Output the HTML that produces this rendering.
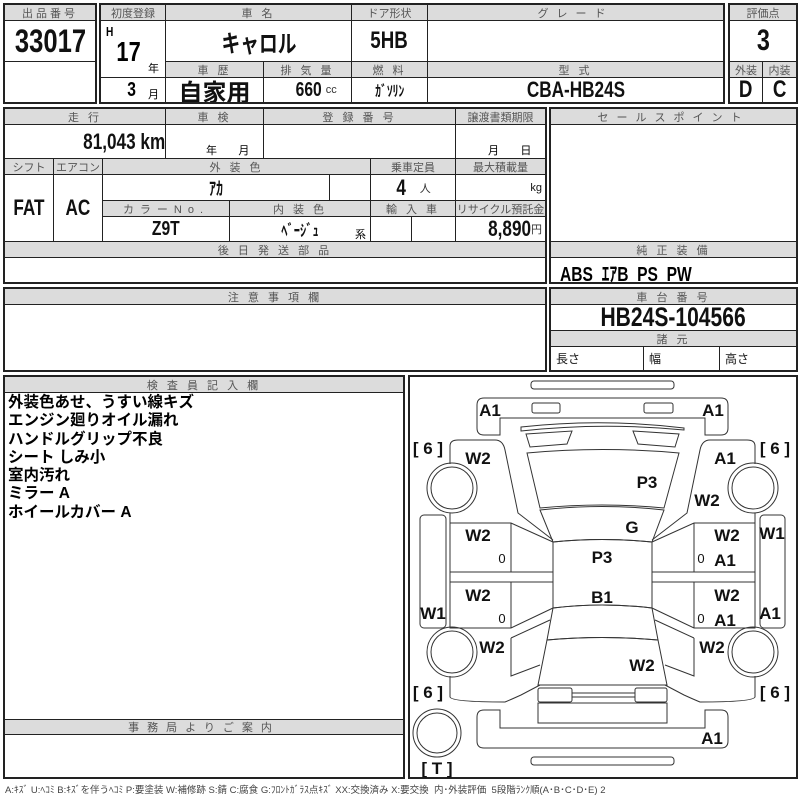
<!DOCTYPE html>
<html><head><meta charset="utf-8"><style>
body{margin:0;width:800px;height:800px;background:#fff;position:relative;overflow:hidden;font-family:"Liberation Sans","Noto Sans CJK JP",sans-serif;}
.b{position:absolute;border:1px solid #222;box-sizing:border-box;display:flex;align-items:center;justify-content:center;overflow:hidden;white-space:nowrap;color:#111}
.h{background:#dcdcdc;color:#555;font-size:11px;letter-spacing:3px}
.v{font-weight:bold;font-size:20px}
.n{display:inline-block;transform:scaleX(.78);}
.s{font-size:11px;color:#333;font-weight:normal}
.fr{position:absolute;border:2px solid #222;box-sizing:border-box}
.t{position:absolute;font-weight:bold;font-size:16px;white-space:nowrap}
</style></head><body>
<!-- block1 -->
<div class="fr" style="left:3px;top:3px;width:94px;height:101px"></div>
<div class="b h" style="left:4px;top:4px;width:92px;height:17px">出品番号</div>
<div class="b v" style="left:4px;top:20px;width:92px;height:42px;font-size:32px"><span class="n" style="transform:scaleX(.8)">33017</span></div>
<div class="b" style="left:4px;top:61px;width:92px;height:42px"></div>
<!-- block2 -->
<div class="fr" style="left:99px;top:3px;width:626px;height:101px"></div>
<div class="b h" style="left:100px;top:4px;width:66px;height:17px;letter-spacing:0">初度登録</div>
<div class="b h" style="left:165px;top:4px;width:187px;height:17px">車 名</div>
<div class="b h" style="left:351px;top:4px;width:77px;height:17px;letter-spacing:0">ドア形状</div>
<div class="b h" style="left:427px;top:4px;width:297px;height:17px;letter-spacing:8px">グレード</div>
<div class="b" style="left:100px;top:20px;width:66px;height:58px"></div>
<div class="t" style="left:105px;top:24px;font-size:13px"><span class="n">H</span></div>
<div class="t" style="left:113px;top:36px;font-size:28px"><span class="n">17</span></div>
<div class="t" style="left:148px;top:60px;font-size:11px;font-weight:normal">年</div>
<div class="b" style="left:100px;top:77px;width:66px;height:26px"></div>
<div class="t" style="left:126px;top:79px;font-size:20px"><span class="n">3</span></div>
<div class="t" style="left:148px;top:86px;font-size:11px;font-weight:normal">月</div>
<div class="b v" style="left:165px;top:20px;width:187px;height:42px;font-size:24px"><span class="n">キャロル</span></div>
<div class="b v" style="left:351px;top:20px;width:77px;height:42px;font-size:24px"><span class="n">5HB</span></div>
<div class="b" style="left:427px;top:20px;width:297px;height:42px"></div>
<div class="b h" style="left:165px;top:61px;width:99px;height:17px">車 歴</div>
<div class="b h" style="left:263px;top:61px;width:89px;height:17px">排 気 量</div>
<div class="b h" style="left:351px;top:61px;width:77px;height:17px">燃 料</div>
<div class="b h" style="left:427px;top:61px;width:297px;height:17px">型 式</div>
<div class="b v" style="left:165px;top:77px;width:99px;height:26px;font-size:24px">自家用</div>
<div class="b v" style="left:263px;top:77px;width:89px;height:26px;padding-left:14px"><span class="n">660</span><span class="s">cc</span></div>
<div class="b v" style="left:351px;top:77px;width:77px;height:26px;font-size:15px"><span class="n">ｶﾞｿﾘﾝ</span></div>
<div class="b v" style="left:427px;top:77px;width:297px;height:26px;font-size:22px"><span class="n">CBA-HB24S</span></div>
<!-- rating -->
<div class="fr" style="left:728px;top:3px;width:70px;height:101px"></div>
<div class="b h" style="left:729px;top:4px;width:68px;height:17px;letter-spacing:0">評価点</div>
<div class="b v" style="left:729px;top:20px;width:68px;height:42px;font-size:30px"><span class="n">3</span></div>
<div class="b h" style="left:729px;top:61px;width:34px;height:17px;letter-spacing:0">外装</div>
<div class="b h" style="left:762px;top:61px;width:35px;height:17px;letter-spacing:0">内装</div>
<div class="b v" style="left:729px;top:77px;width:34px;height:26px;font-size:24px"><span class="n">D</span></div>
<div class="b v" style="left:762px;top:77px;width:35px;height:26px;font-size:24px"><span class="n">C</span></div>
<!-- block3 -->
<div class="fr" style="left:3px;top:107px;width:544px;height:177px"></div>
<div class="b h" style="left:4px;top:108px;width:162px;height:17px">走 行</div>
<div class="b h" style="left:165px;top:108px;width:99px;height:17px">車 検</div>
<div class="b h" style="left:263px;top:108px;width:193px;height:17px">登 録 番 号</div>
<div class="b h" style="left:455px;top:108px;width:91px;height:17px;letter-spacing:0">譲渡書類期限</div>
<div class="b v" style="left:4px;top:124px;width:162px;height:35px;justify-content:flex-end;padding-right:0;font-size:22px"><span class="n" style="transform-origin:right">81,043 km</span></div>
<div class="b" style="left:165px;top:124px;width:99px;height:35px"></div>
<div class="t" style="left:206px;top:142px;font-size:11px;font-weight:normal">年&nbsp;&nbsp;&nbsp;&nbsp;&nbsp;&nbsp;&nbsp;月</div>
<div class="b" style="left:263px;top:124px;width:193px;height:35px"></div>
<div class="b" style="left:455px;top:124px;width:91px;height:35px"></div>
<div class="t" style="left:488px;top:142px;font-size:11px;font-weight:normal">月&nbsp;&nbsp;&nbsp;&nbsp;&nbsp;&nbsp;&nbsp;日</div>
<div class="b h" style="left:4px;top:158px;width:50px;height:17px;letter-spacing:0">シフト</div>
<div class="b h" style="left:53px;top:158px;width:50px;height:17px;letter-spacing:0">エアコン</div>
<div class="b h" style="left:102px;top:158px;width:269px;height:17px">外 装 色</div>
<div class="b h" style="left:370px;top:158px;width:86px;height:17px;letter-spacing:0">乗車定員</div>
<div class="b h" style="left:455px;top:158px;width:91px;height:17px;letter-spacing:0">最大積載量</div>
<div class="b v" style="left:4px;top:174px;width:50px;height:68px;font-size:22px"><span class="n">FAT</span></div>
<div class="b v" style="left:53px;top:174px;width:50px;height:68px;font-size:22px"><span class="n">AC</span></div>
<div class="b v" style="left:102px;top:174px;width:228px;height:27px;font-size:18px"><span class="n">ｱｶ</span></div>
<div class="b" style="left:329px;top:174px;width:42px;height:27px"></div>
<div class="b v" style="left:370px;top:174px;width:86px;height:27px;font-size:22px"><span class="n">4</span>&nbsp;&nbsp;<span class="s">人</span></div>
<div class="b" style="left:455px;top:174px;width:91px;height:27px;justify-content:flex-end;padding-right:3px;font-size:11px">kg</div>
<div class="b h" style="left:102px;top:200px;width:128px;height:17px;letter-spacing:6px">カラーNo.</div>
<div class="b h" style="left:229px;top:200px;width:142px;height:17px">内 装 色</div>
<div class="b h" style="left:370px;top:200px;width:86px;height:17px">輸 入 車</div>
<div class="b h" style="left:455px;top:200px;width:91px;height:17px;letter-spacing:0">リサイクル預託金</div>
<div class="b v" style="left:102px;top:216px;width:128px;height:26px;font-size:20px"><span class="n">Z9T</span></div>
<div class="b v" style="left:229px;top:216px;width:142px;height:26px;font-size:16px"><span class="n">ﾍﾞｰｼﾞｭ</span></div>
<div class="t" style="left:355px;top:226px;font-size:11px;font-weight:normal">系</div>
<div class="b" style="left:370px;top:216px;width:42px;height:26px"></div>
<div class="b" style="left:411px;top:216px;width:45px;height:26px"></div>
<div class="b v" style="left:455px;top:216px;width:91px;height:26px;justify-content:flex-end;padding-right:3px;font-size:22px"><span class="n" style="transform-origin:right">8,890</span><span class="s">円</span></div>
<div class="b h" style="left:4px;top:241px;width:542px;height:17px">後 日 発 送 部 品</div>
<!-- sales -->
<div class="fr" style="left:549px;top:107px;width:249px;height:177px"></div>
<div class="b h" style="left:550px;top:108px;width:247px;height:17px;letter-spacing:8px">セールスポイント</div>
<div class="b h" style="left:550px;top:241px;width:247px;height:17px">純 正 装 備</div>
<div class="t" style="left:560px;top:258px;font-size:20px"><span class="n" style="transform-origin:left">ABS&nbsp; ｴｱB&nbsp; PS&nbsp; PW</span></div>
<!-- notes -->
<div class="fr" style="left:3px;top:287px;width:544px;height:85px"></div>
<div class="b h" style="left:4px;top:288px;width:542px;height:17px">注 意 事 項 欄</div>
<div class="fr" style="left:549px;top:287px;width:249px;height:85px"></div>
<div class="b h" style="left:550px;top:288px;width:247px;height:17px">車 台 番 号</div>
<div class="b v" style="left:550px;top:304px;width:247px;height:27px;font-size:27px"><span class="n">HB24S-104566</span></div>
<div class="b h" style="left:550px;top:330px;width:247px;height:17px">諸 元</div>
<div class="b" style="left:550px;top:346px;width:94px;height:25px;justify-content:flex-start;padding-left:5px;font-size:12px">長さ</div>
<div class="b" style="left:643px;top:346px;width:77px;height:25px;justify-content:flex-start;padding-left:5px;font-size:12px">幅</div>
<div class="b" style="left:719px;top:346px;width:78px;height:25px;justify-content:flex-start;padding-left:5px;font-size:12px">高さ</div>
<!-- inspector -->
<div class="fr" style="left:3px;top:375px;width:402px;height:404px"></div>
<div class="b h" style="left:4px;top:376px;width:400px;height:17px">検 査 員 記 入 欄</div>
<div class="t" style="left:8px;top:394px;font-size:15.5px;line-height:18.3px">外装色あせ、うすい線キズ<br>エンジン廻りオイル漏れ<br>ハンドルグリップ不良<br>シート しみ小<br>室内汚れ<br>ミラー A<br>ホイールカバー A</div>
<div class="b h" style="left:4px;top:719px;width:400px;height:16px;letter-spacing:8px">事務局よりご案内</div>
<!-- diagram -->
<div class="fr" style="left:408px;top:375px;width:390px;height:404px"></div>
<svg style="position:absolute;left:0;top:0" width="800" height="800" fill="none" stroke="#333" stroke-width="1">
<rect x="531" y="381" width="143" height="8" rx="3"/>
<path d="M500,435 L484,435 Q477,435 477,428 L477,405 Q477,398 484,398 L721,398 Q728,398 728,405 L728,428 Q728,435 721,435 L705,435 L705,418 L500,418 Z"/>
<rect x="532" y="403" width="28" height="10" rx="2"/><rect x="644" y="403" width="29" height="10" rx="2"/>
<path d="M521,427 Q602,418 684,428 L684,430 Q602,422 521,431 Z"/>
<path d="M526,434 L572,431 L567,444 L530,447 Z"/><path d="M633,431 L679,434 L675,447 L638,444 Z"/>
<path d="M527,453 Q602,446 679,453 L664,508 Q602,502 540,508 Z"/>
<path d="M540,510 Q602,503 664,510 L652,542 Q602,537 553,542 Z"/>
<path d="M553,542 Q602,537 652,542 L652,608 Q602,602 553,608 Z"/>
<path d="M553,608 Q602,602 652,608 L658,640 Q602,635 547,640 Z"/>
<path d="M547,640 Q602,635 658,640 L667,685 L538,685 Z"/>
<rect x="538" y="688" width="34" height="14" rx="2"/><rect x="635" y="688" width="32" height="14" rx="2"/>
<path d="M572,693 L635,693 M572,697 L635,697"/>
<rect x="538" y="703" width="129" height="20"/>
<path d="M500,710 L484,710 Q477,710 477,717 L477,741 Q477,748 484,748 L721,748 Q728,748 728,741 L728,717 Q728,710 721,710 L705,710 L705,728 L500,728 Z"/>
<rect x="531" y="757" width="143" height="8" rx="3"/>
<path d="M450,464 L450,446 Q450,440 458,440 L495,440 Q503,440 505,450 L518,513 L553,540"/>
<path d="M755,464 L755,446 Q755,440 747,440 L710,440 Q702,440 700,450 L687,513 L652,540"/>
<path d="M450,513 L450,628 L511,628 L553,608"/>
<path d="M450,523 L511,523 L553,542 M511,523 L511,572 M450,572 L553,572 M450,582 L553,582 M511,582 L511,628"/>
<rect x="420" y="515" width="26" height="113" rx="4"/>
<path d="M755,513 L755,628 L694,628 L652,608"/>
<path d="M755,523 L694,523 L652,542 M694,523 L694,572 M755,572 L652,572 M755,582 L652,582 M694,582 L694,628"/>
<rect x="760" y="515" width="25" height="113" rx="4"/>
<path d="M450,676 L450,697 Q452,702 505,702 Q510,700 521,695 L540,685 M511,638 L511,676 L540,665 M511,638 L550,620"/>
<path d="M755,676 L755,697 Q753,702 700,702 Q695,700 684,695 L665,685 M694,638 L694,676 L665,665 M694,638 L655,620"/>
<circle cx="452" cy="488" r="25"/><circle cx="452" cy="488" r="21"/>
<circle cx="753" cy="488" r="25"/><circle cx="753" cy="488" r="21"/>
<circle cx="452" cy="652" r="25"/><circle cx="452" cy="652" r="21"/>
<circle cx="753" cy="652" r="25"/><circle cx="753" cy="652" r="21"/>
<circle cx="437" cy="733" r="24"/><circle cx="437" cy="733" r="20"/>
<g fill="#111" stroke="none" font-family="Liberation Sans, sans-serif" font-weight="bold" font-size="17" text-anchor="middle">
<text x="428" y="454">[ 6 ]</text><text x="775" y="454">[ 6 ]</text>
<text x="428" y="698">[ 6 ]</text><text x="775" y="698">[ 6 ]</text>
<text x="437" y="774">[ T ]</text>
<text x="490" y="416">A1</text><text x="713" y="416">A1</text>
<text x="478" y="464">W2</text><text x="725" y="464">A1</text>
<text x="647" y="488">P3</text><text x="707" y="506">W2</text>
<text x="632" y="533">G</text>
<text x="478" y="541">W2</text><text x="602" y="563">P3</text>
<text x="727" y="541">W2</text><text x="772" y="539">W1</text><text x="725" y="566">A1</text>
<text x="478" y="601">W2</text><text x="602" y="603">B1</text>
<text x="727" y="601">W2</text><text x="770" y="619">A1</text><text x="433" y="619">W1</text><text x="725" y="626">A1</text>
<text x="492" y="653">W2</text><text x="712" y="653">W2</text><text x="642" y="671">W2</text>
<text x="712" y="744">A1</text>
<g font-weight="normal" font-size="13"><text x="502" y="563">0</text><text x="701" y="563">0</text><text x="502" y="623">0</text><text x="701" y="623">0</text></g>
</g>
</svg>
<div class="t" style="left:5px;top:782px;font-size:9.5px;font-weight:normal;color:#444">A:ｷｽﾞ U:ﾍｺﾐ B:ｷｽﾞを伴うﾍｺﾐ P:要塗装 W:補修跡 S:錆 C:腐食 G:ﾌﾛﾝﾄｶﾞﾗｽ点ｷｽﾞ XX:交換済み X:要交換&nbsp; 内･外装評価&nbsp; 5段階ﾗﾝｸ順(A･B･C･D･E) 2</div>
</body></html>
